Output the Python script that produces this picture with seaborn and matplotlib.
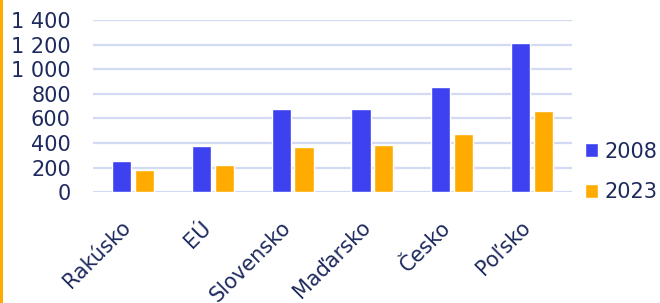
import pandas as pd
import matplotlib.pyplot as plt
import matplotlib.transforms as mtransforms
from matplotlib.patches import Rectangle
import seaborn as sns

# ==============================
# Data
# ==============================
countries = ["Rakúsko", "EÚ", "Slovensko", "Maďarsko", "Česko", "Poľsko"]
years = ["2008", "2023"]
values_2008 = [252, 378, 676, 679, 853, 1210]
values_2023 = [182, 225, 371, 388, 477, 664]
y_ticks = [0, 200, 400, 600, 800, 1000, 1200, 1400]

colors = ["#3D41F0", "#FFAB00"]
text_color = "#1E2A5E"
grid_color = "#D3DAF4"

df = pd.DataFrame({
    "country": countries * 2,
    "year": [years[0]] * len(countries) + [years[1]] * len(countries),
    "value": values_2008 + values_2023,
})

# ==============================
# Plot
# ==============================
sns.set_theme(style="white")
plt.rcParams["font.family"] = ["DejaVu Sans"]

fig = plt.figure(figsize=(6.6, 3.03), dpi=100)
ax = fig.add_axes([93 / 660, 1 - 192.3 / 303, (572 - 93) / 660, (192.3 - 20) / 303])

sns.barplot(data=df, x="country", y="value", hue="year", palette=colors,
            width=0.57, gap=0.16, saturation=1, ax=ax)

ax.set_ylim(0, 1400)
ax.set_xlim(-0.5, len(countries) - 0.5)
ax.set_yticks(y_ticks)
ax.set_yticklabels([f"{v:,}".replace(",", " ") for v in y_ticks])
ax.set_xlabel("")
ax.set_ylabel("")
ax.yaxis.grid(True, color=grid_color, linewidth=1.6)
ax.set_axisbelow(True)
sns.despine(ax=ax, left=True, bottom=True)

ax.tick_params(axis="y", length=0, pad=16, labelsize=15, labelcolor=text_color)
ax.tick_params(axis="x", length=0, pad=18, labelsize=15, labelcolor=text_color)
offset = mtransforms.ScaledTranslation(2 / 100, 0, fig.dpi_scale_trans)
for lbl in ax.get_xticklabels():
    lbl.set_rotation(45)
    lbl.set_ha("right")
    lbl.set_transform(lbl.get_transform() + offset)

ax.legend(loc="center left", bbox_to_anchor=(585 / 660, 1 - 172 / 303),
          bbox_transform=fig.transFigure, frameon=False, fontsize=15,
          labelcolor=text_color, handlelength=0.62, handleheight=0.62,
          handletextpad=0.3, labelspacing=1.0, borderpad=0, borderaxespad=0)

# orange accent line at the left edge
fig.add_artist(Rectangle((0, 0), 2.5 / 660, 1, transform=fig.transFigure,
                         color="#FFAB00", lw=0))

plt.savefig("out.png", dpi=100)
